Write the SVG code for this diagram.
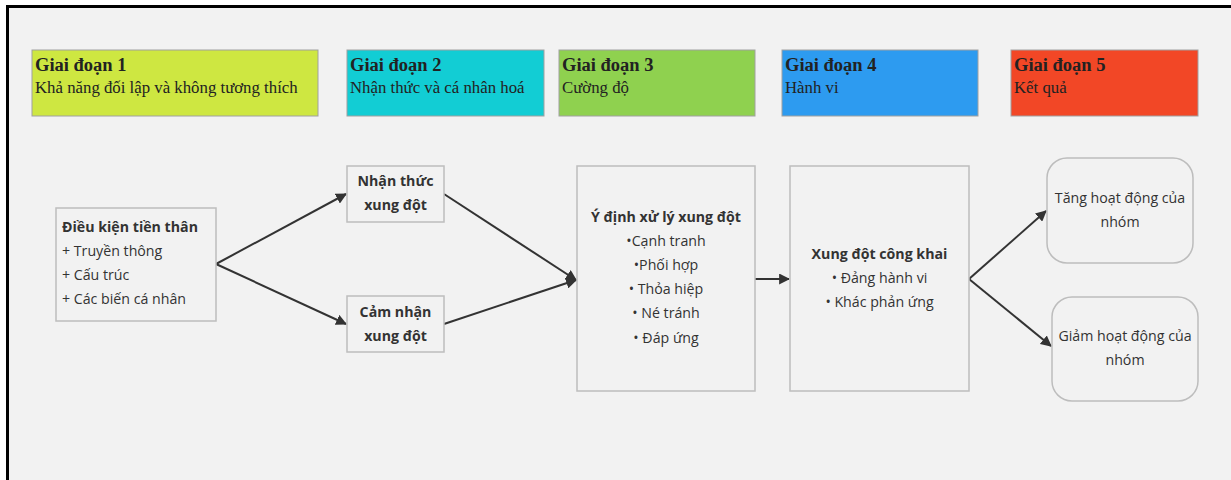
<svg xmlns="http://www.w3.org/2000/svg" width="1231" height="480" viewBox="0 0 1231 480">
<defs>
<style>
.hdr{stroke:#a0a0a0;stroke-width:1}
.ht{font-family:"Liberation Serif","Times New Roman",serif;fill:#222;font-size:16.8px}
.htb{font-weight:bold;font-size:18.5px}
.box{fill:#f2f2f2;stroke:#bdbdbd;stroke-width:1.5}
.t{font-family:"Open Sans","Noto Sans",sans-serif;font-size:14.2px;fill:#333}
.b{font-weight:bold}
.c{text-anchor:middle}
.con{stroke:#333;stroke-width:2;fill:none;marker-end:url(#ah)}
</style>
<marker id="ah" viewBox="0 0 10 10" refX="9" refY="5" markerWidth="5.5" markerHeight="5.5" orient="auto" markerUnits="strokeWidth">
<path d="M0,0 L10,5 L0,10 z" fill="#333"/>
</marker>
</defs>
<rect x="0" y="0" width="1231" height="480" fill="#ffffff"/>
<rect x="7.5" y="6.5" width="1240" height="490" fill="#f2f2f2" stroke="#000" stroke-width="3"/>

<g id="stage1">
<rect class="hdr" x="32" y="50" width="286" height="66" fill="#CEE741"/>
<text class="ht htb" x="35" y="71">Giai đoạn 1</text>
<text class="ht" x="35" y="93">Khả năng đối lập và không tương thích</text>
</g>
<g id="stage2">
<rect class="hdr" x="347" y="50" width="197" height="66" fill="#12CDD4"/>
<text class="ht htb" x="350" y="71">Giai đoạn 2</text>
<text class="ht" x="350" y="93">Nhận thức và cá nhân hoá</text>
</g>
<g id="stage3">
<rect class="hdr" x="559" y="50" width="196" height="66" fill="#8FD14F"/>
<text class="ht htb" x="562" y="71">Giai đoạn 3</text>
<text class="ht" x="562" y="93">Cường độ</text>
</g>
<g id="stage4">
<rect class="hdr" x="782" y="50" width="196" height="66" fill="#2D9BF0"/>
<text class="ht htb" x="785" y="71">Giai đoạn 4</text>
<text class="ht" x="785" y="93">Hành vi</text>
</g>
<g id="stage5">
<rect class="hdr" x="1011" y="50" width="187" height="66" fill="#F24726"/>
<text class="ht htb" x="1014" y="71">Giai đoạn 5</text>
<text class="ht" x="1014" y="93">Kết quả</text>
</g>

<g id="connectors">
<line class="con" x1="216" y1="264" x2="346" y2="194"/>
<line class="con" x1="216" y1="264" x2="346" y2="324"/>
<line class="con" x1="444" y1="194" x2="576" y2="280"/>
<line class="con" x1="444" y1="324" x2="576" y2="280"/>
<line class="con" x1="755" y1="279" x2="789" y2="279"/>
<line class="con" x1="969" y1="279" x2="1046" y2="211"/>
<line class="con" x1="969" y1="279" x2="1051" y2="346"/>
</g>

<g id="antecedents">
<rect class="box" x="56" y="208" width="160" height="113"/>
<text class="t b" x="62" y="232">Điều kiện tiền thân</text>
<text class="t" x="62" y="256">+ Truyền thông</text>
<text class="t" x="62" y="280">+ Cấu trúc</text>
<text class="t" x="62" y="304">+ Các biến cá nhân</text>
</g>
<g id="perceived">
<rect class="box" x="347" y="166" width="97" height="56"/>
<text class="t b c" x="395.5" y="186">Nhận thức</text>
<text class="t b c" x="395.5" y="210">xung đột</text>
</g>
<g id="felt">
<rect class="box" x="347" y="296" width="97" height="56"/>
<text class="t b c" x="395.5" y="317">Cảm nhận</text>
<text class="t b c" x="395.5" y="341">xung đột</text>
</g>
<g id="intentions">
<rect class="box" x="577" y="166" width="178" height="225"/>
<text class="t b c" x="666" y="222">Ý định xử lý xung đột</text>
<text class="t c" x="666" y="246">•Cạnh tranh</text>
<text class="t c" x="666" y="270">•Phối hợp</text>
<text class="t c" x="666" y="294">• Thỏa hiệp</text>
<text class="t c" x="666" y="318">• Né tránh</text>
<text class="t c" x="666" y="343">• Đáp ứng</text>
</g>
<g id="overt">
<rect class="box" x="790" y="166" width="179" height="225"/>
<text class="t b c" x="879.5" y="259">Xung đột công khai</text>
<text class="t c" x="879.5" y="283">• Đảng hành vi</text>
<text class="t c" x="879.5" y="307">• Khác phản ứng</text>
</g>
<g id="increase">
<rect class="box" x="1047" y="158" width="146" height="105" rx="20" ry="20"/>
<text class="t c" x="1120" y="203">Tăng hoạt động của</text>
<text class="t c" x="1120" y="227">nhóm</text>
</g>
<g id="decrease">
<rect class="box" x="1052" y="297" width="146" height="104" rx="20" ry="20"/>
<text class="t c" x="1125" y="341">Giảm hoạt động của</text>
<text class="t c" x="1125" y="365">nhóm</text>
</g>
</svg>
